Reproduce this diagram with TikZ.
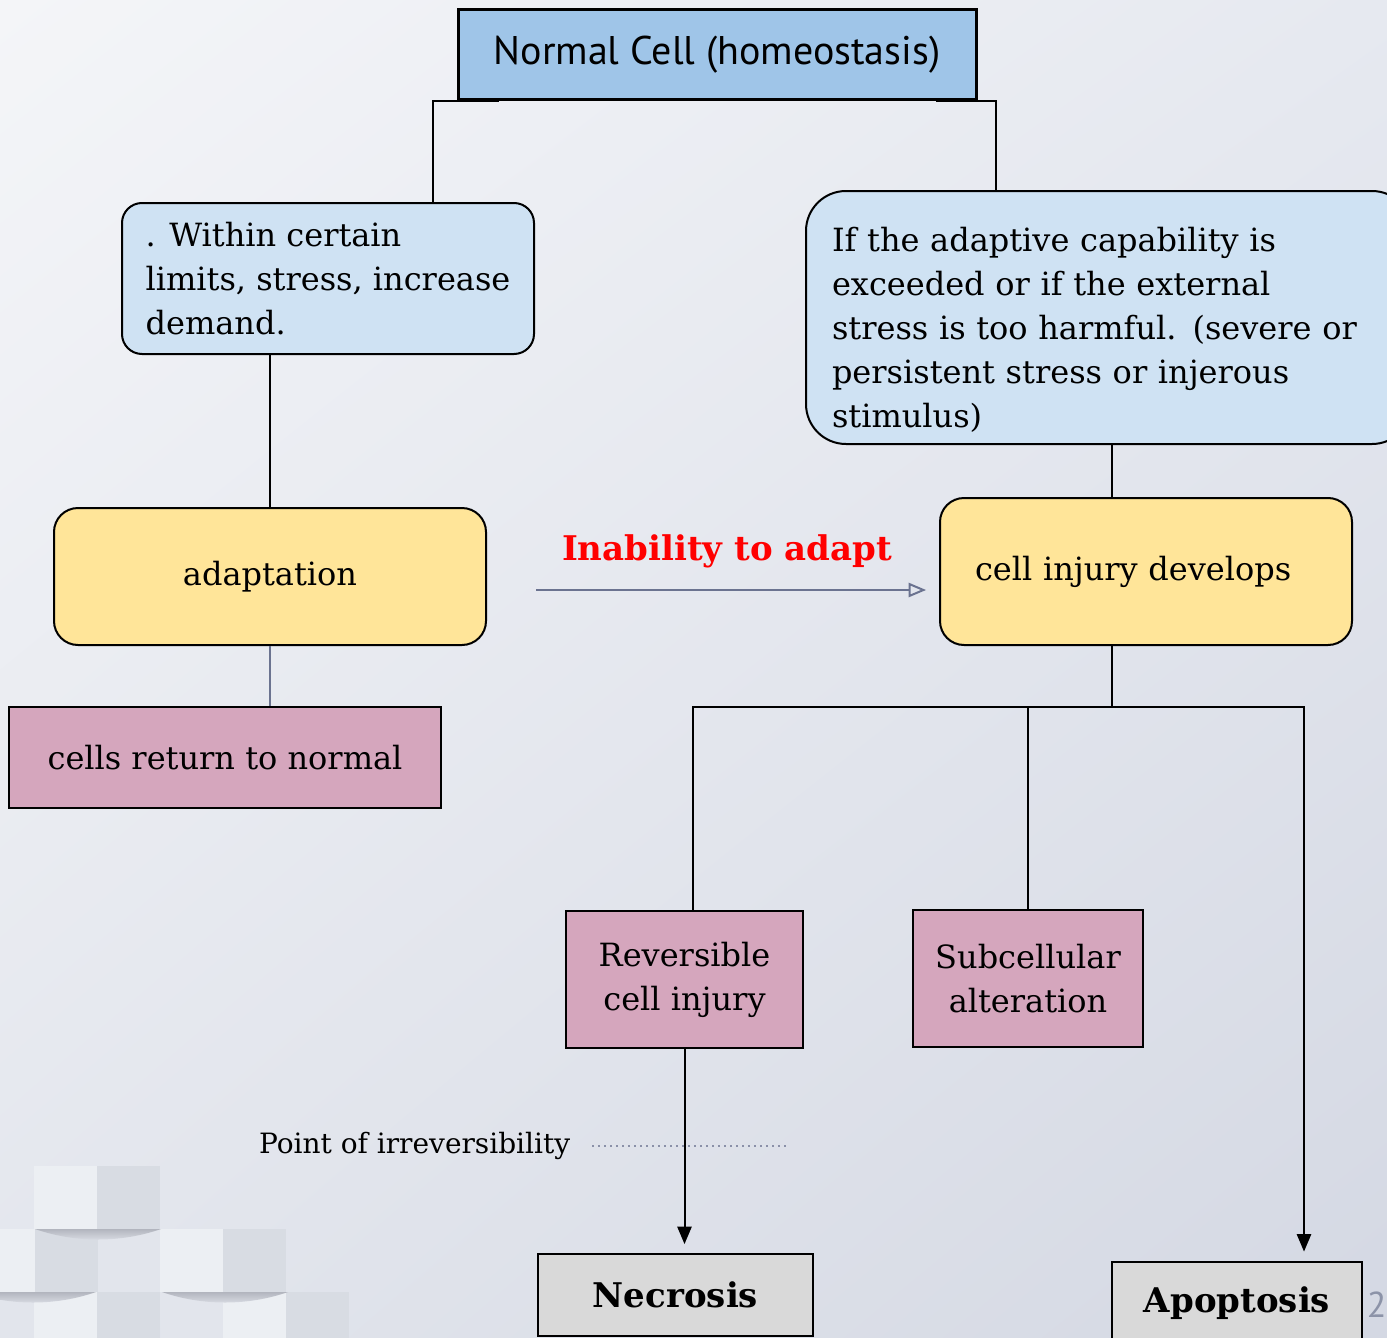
\documentclass[tikz,border=0pt]{standalone}
\usepackage{fontspec}
\setmainfont{DejaVu Serif}
\newfontfamily\slidesans{PT Sans}
\usetikzlibrary{arrows,shadings}
\definecolor{topblue}{HTML}{9FC5E8}
\definecolor{paleblue}{HTML}{CFE2F3}
\definecolor{butter}{HTML}{FFE599}
\definecolor{rose}{HTML}{D5A6BD}
\definecolor{lightgrey}{HTML}{D9D9D9}
\definecolor{slate}{HTML}{6B7390}
\definecolor{dotgrey}{HTML}{8A90A8}
\definecolor{pagegrey}{HTML}{8C93A8}
\definecolor{bgA}{HTML}{F4F5F8}
\definecolor{bgB}{HTML}{E6E9F0}
\definecolor{bgC}{HTML}{E3E6ED}
\definecolor{bgD}{HTML}{D4D8E3}
\definecolor{tileL}{HTML}{ECEFF3}
\definecolor{tileM}{HTML}{E2E5EC}
\definecolor{tileD}{HTML}{D8DCE3}
\definecolor{shadowgrey}{HTML}{B2B5BE}
\newcommand{\tile}[3]{
	\fill[#3] (#1,#2) rectangle ++(63,63);
	}
\newcommand{\tileshadow}[2]{
	\shade[top color=shadowgrey,bottom color=tileM] (#1,#2) .. controls (#1+40,#2+14) and (#1+86,#2+14) .. (#1+126,#2) -- cycle;
	}

\begin{document}
\begin{tikzpicture}[
      x=0.5pt, y=-0.5pt, %one unit is one pixel of the slide
      box/.style={draw=black, line width=1pt, inner sep=0pt, align=center, font=\fontsize{16}{22}\selectfont},
      topbox/.style={box, fill=topblue, line width=1.5pt, font=\slidesans\fontsize{20}{24}\selectfont},
      bluebox/.style={box, fill=paleblue, rounded corners=10pt, align=left},
      yellowbox/.style={box, fill=butter, rounded corners=12pt},
      pinkbox/.style={box, fill=rose},
      greybox/.style={box, fill=lightgrey, font=\bfseries\fontsize{17}{22}\selectfont},
      link/.style={line width=1pt},
      tip/.style={link, -triangle 45, shorten >=4.5pt},
      softlink/.style={line width=1pt, draw=slate},
      adaptarrow/.style={softlink, -open triangle 45},
      dots/.style={line width=1pt, draw=dotgrey, dotted}
    ]
    % Slide background
    \clip (0,0) rectangle (1387,1338);
    \shade[upper left=bgA, upper right=bgB, lower left=bgC, lower right=bgD] (0,0) rectangle (1387,1338);
    % Tiles in the lower left corner
    \tile{34}{1166}{tileL};
    \tile{97}{1166}{tileD};
    \tile{-28}{1229}{tileL};
    \tile{35}{1229}{tileD};
    \tile{98}{1229}{tileM};
    \tile{160}{1229}{tileL};
    \tile{223}{1229}{tileD};
    \tile{-29}{1292}{tileM};
    \tile{34}{1292}{tileL};
    \tile{97}{1292}{tileD};
    \tile{161}{1292}{tileM};
    \tile{223}{1292}{tileL};
    \tile{286}{1292}{tileD};
    \tileshadow{35}{1229};
    \tileshadow{-30}{1292};
    \tileshadow{162}{1292};
    % Named points of the connectors
    \coordinate (lk) at (433,0);
    \coordinate (rk) at (996,0);
    \coordinate (ik) at (1112,0);
    \coordinate (fork) at (1112,707);
    \coordinate (dotend) at (790,1146);
    % Draw the boxes
    \node[topbox, minimum width=259pt, minimum height=45pt] (top) at (717,55) {Normal Cell (homeostasis)};
    \node[bluebox, minimum width=206pt, minimum height=75.5pt] (lim) at (328,278.5) {. Within certain\\limits, stress, increase\\demand.};
    \node[bluebox, rounded corners=20pt, text width=277pt, inner xsep=13pt, minimum height=126.5pt, anchor=north west] (exc) at (805,190)
      {\rule{0pt}{24pt}If the adaptive capability is\\exceeded or if the external\\stress is too harmful. (severe or\\persistent stress or injerous\\stimulus)};
    \node[yellowbox, minimum width=216pt, minimum height=68.5pt] (adapt) at (270,576.5) {adaptation};
    \node[yellowbox, align=left, text width=171pt, inner xsep=17.5pt, minimum height=73.5pt] (inj) at (1146,571.5) {cell injury develops};
    \node[pinkbox, minimum width=216pt, minimum height=50.5pt] (ret) at (225,757.5) {cells return to normal};
    \node[pinkbox, minimum width=118.5pt, minimum height=68.5pt] (rev) at (684.5,979.5) {Reversible\\cell injury};
    \node[pinkbox, minimum width=115pt, minimum height=68.5pt] (sub) at (1028,978.5) {Subcellular\\alteration};
    \node[greybox, minimum width=137.5pt, minimum height=41pt] (nec) at (675.5,1295) {Necrosis};
    \node[greybox, minimum width=125pt, minimum height=41.5pt] (apo) at (1237,1303) {Apoptosis};
    % Labels
    \node[font=\bfseries\fontsize{17}{20}\selectfont, text=red] (inab) at (727,551) {Inability to adapt};
    \node[font=\fontsize{14}{16}\selectfont, anchor=west] (pir) at (252,1146) {Point of irreversibility};
    \node[font=\slidesans\fontsize{18}{20}\selectfont, text=pagegrey, anchor=east, inner sep=0pt] (pg) at (1387,1305) {2};
    % Draw the connectors
    \draw[link] ([xshift=21pt]top.south west) -| (lim.north -| lk);
    \draw[link] ([xshift=-21pt]top.south east) -| (exc.north -| rk);
    \draw[link] (adapt.north) -- (adapt.north |- lim.south);
    \draw[link] (exc.south -| ik) -- (inj.north -| ik);
    \draw[softlink] (adapt.south) -- (ret.north -| adapt.south);
    \draw[adaptarrow] ([shift={(49,13.5)}]adapt.east) -- ([shift={(-13,18.5)}]inj.west);
    \draw[link] (inj.south -| fork) -- (fork);
    \draw[link] ([xshift=4pt]rev.north) |- (fork);
    \draw[link] (sub.north) |- (fork);
    \draw[tip] (fork) -| ([xshift=33.5pt]apo.north);
    \draw[tip] (rev.south) -- (rev.south |- nec.north);
    \draw[dots] ([xshift=7.5pt]pir.east) -- (dotend);
\end{tikzpicture}
\end{document}
